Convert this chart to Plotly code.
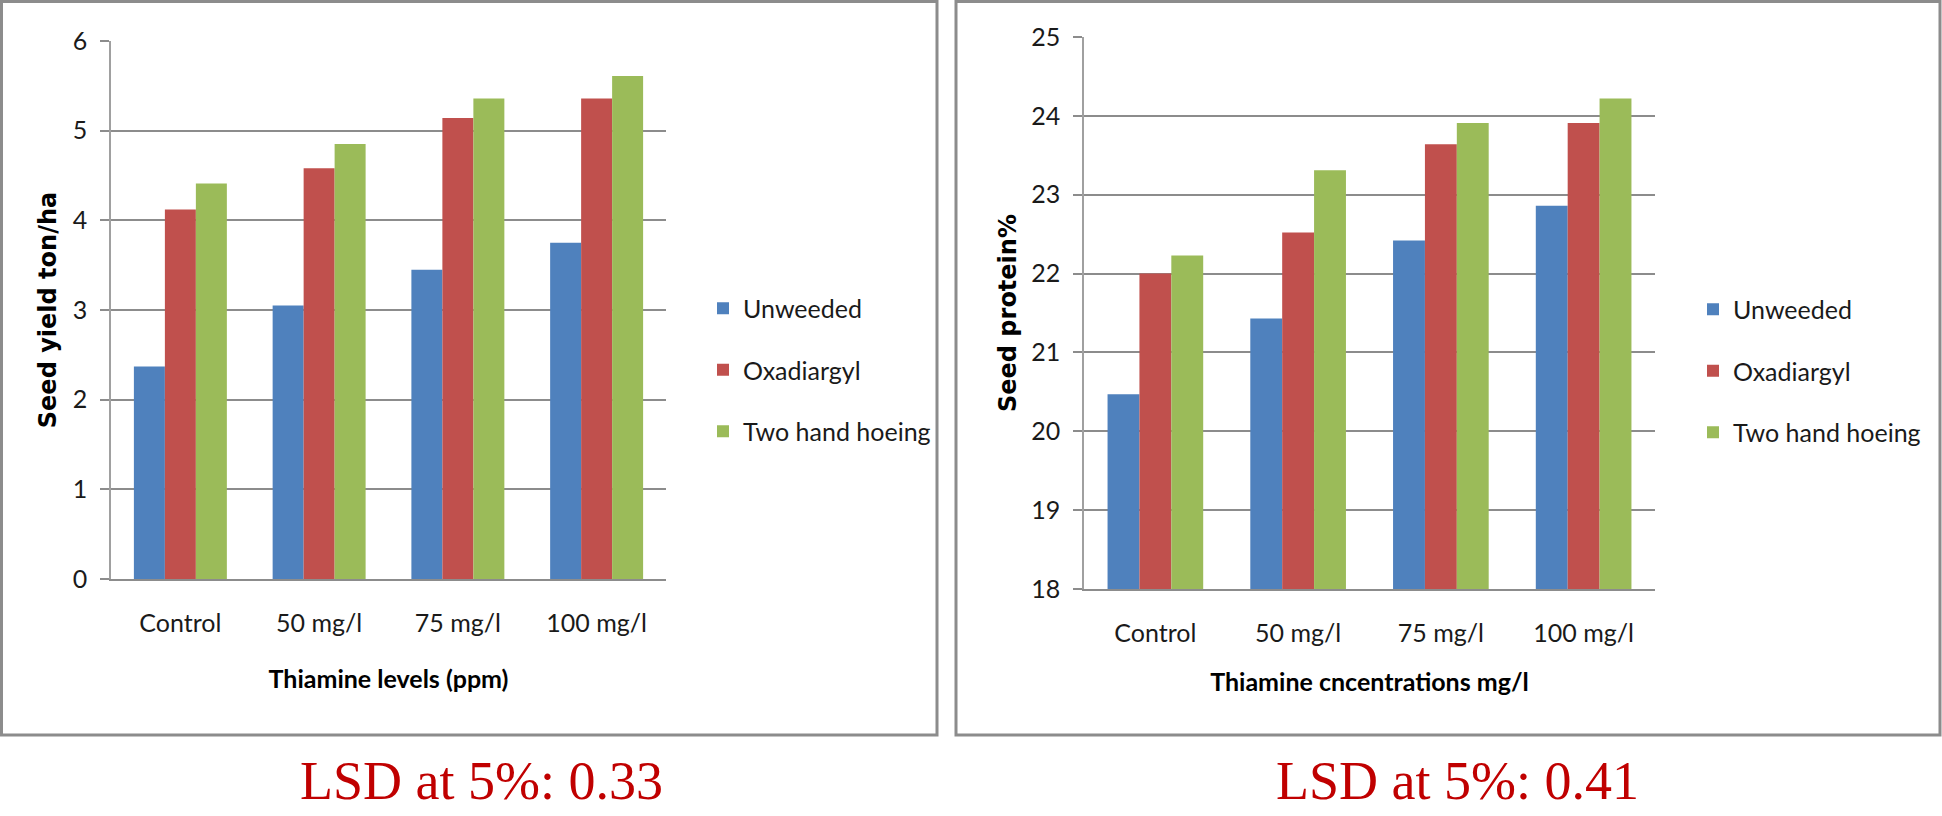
import plotly.graph_objects as go

categories = ["Control", "50 mg/l", "75 mg/l", "100 mg/l"]
series_names = ["Unweeded", "Oxadiargyl", "Two hand hoeing"]
colors = ["#4F81BD", "#C0504D", "#9BBB59"]

yield_unweeded = [2.37, 3.05, 3.45, 3.75]
yield_oxadiargyl = [4.12, 4.58, 5.14, 5.36]
yield_hoeing = [4.41, 4.85, 5.36, 5.61]

protein_unweeded = [20.47, 21.43, 22.42, 22.86]
protein_oxadiargyl = [22.00, 22.52, 23.64, 23.91]
protein_hoeing = [22.23, 23.31, 23.91, 24.22]

left_ticks = [0, 1, 2, 3, 4, 5, 6]
right_ticks = [18, 19, 20, 21, 22, 23, 24, 25]

lsd_texts = ["LSD at 5%: 0.33", "LSD at 5%: 0.41"]

W, H = 1942, 816
def px(x):
    return x / W
def py(y):
    return 1 - y / H

SANS = "Lato, Carlito, Calibri, Liberation Sans, sans-serif"
TICKFONT = dict(family=SANS, size=25, color="#1a1a1a")
GRID = "#8c8c8c"

fig = go.Figure()

left_vals = [yield_unweeded, yield_oxadiargyl, yield_hoeing]
right_vals = [protein_unweeded, protein_oxadiargyl, protein_hoeing]

for i, (name, col) in enumerate(zip(series_names, colors)):
    fig.add_trace(go.Bar(x=categories, y=left_vals[i], name=name, marker=dict(color=col, line=dict(width=0)),
                         xaxis="x", yaxis="y", legend="legend", legendgroup="L%d" % i))
for i, (name, col) in enumerate(zip(series_names, colors)):
    fig.add_trace(go.Bar(x=categories, y=right_vals[i], name=name, marker=dict(color=col, line=dict(width=0)),
                         xaxis="x2", yaxis="y2", legend="legend2", legendgroup="R%d" % i))

xcommon = dict(showgrid=False, showline=True, linecolor=GRID, linewidth=1.5, ticks="",
               tickfont=TICKFONT, ticklabelstandoff=21, zeroline=False, automargin=False)
ycommon = dict(showgrid=True, gridcolor=GRID, gridwidth=1.5, showline=True, linecolor="#a0a0a0", linewidth=1.5,
               ticks="outside", ticklen=9, tickcolor=GRID, tickwidth=1.5, tickfont=TICKFONT,
               ticklabelstandoff=8, zeroline=False, automargin=False)

XT_FONT = dict(family=SANS, size=25, color="#000000", weight="bold")
YT_FONT = dict(family="DejaVu Sans, Verdana, sans-serif", size=24, color="#000000", weight="bold")

fig.update_layout(
    width=W, height=H,
    margin=dict(l=0, r=0, t=0, b=0),
    paper_bgcolor="white", plot_bgcolor="white",
    barmode="group", bargap=0.33, bargroupgap=0,
    showlegend=True,
    xaxis=dict(domain=[px(111), px(666)], anchor="y",
               title=dict(text="Thiamine levels (ppm)", font=XT_FONT, standoff=35), **xcommon),
    yaxis=dict(domain=[py(579), py(41)], anchor="x", range=[0, 6], tickvals=left_ticks,
               title=dict(text="Seed yield ton/ha", font=YT_FONT, standoff=9), **ycommon),
    xaxis2=dict(domain=[px(1084), px(1655)], anchor="y2",
                title=dict(text="Thiamine cncentrations mg/l", font=XT_FONT, standoff=28), **xcommon),
    yaxis2=dict(domain=[py(589), py(37)], anchor="x2", range=[18, 25], tickvals=right_ticks,
                title=dict(text="Seed protein%", font=YT_FONT, standoff=8), **ycommon),
    legend=dict(x=px(703), y=py(370), xanchor="left", yanchor="middle", font=TICKFONT,
                tracegroupgap=26, bgcolor="rgba(0,0,0,0)", itemwidth=30),
    legend2=dict(x=px(1693), y=py(371), xanchor="left", yanchor="middle", font=TICKFONT,
                 tracegroupgap=26, bgcolor="rgba(0,0,0,0)", itemwidth=30),
    shapes=[
        dict(type="rect", xref="paper", yref="paper", x0=px(1.5), x1=px(937), y0=py(735), y1=py(1.5),
             line=dict(color="#8c8c8c", width=3), fillcolor="rgba(0,0,0,0)", layer="below"),
        dict(type="rect", xref="paper", yref="paper", x0=px(956), x1=px(1940), y0=py(735), y1=py(1.5),
             line=dict(color="#8c8c8c", width=3), fillcolor="rgba(0,0,0,0)", layer="below"),
    ],
    annotations=[
        dict(text=lsd_texts[0], xref="paper", yref="paper", x=px(481), y=py(781), xanchor="center", yanchor="middle",
             showarrow=False, font=dict(family="Liberation Serif, Times New Roman, serif", size=54, color="#C00000")),
        dict(text=lsd_texts[1], xref="paper", yref="paper", x=px(1457), y=py(781), xanchor="center", yanchor="middle",
             showarrow=False, font=dict(family="Liberation Serif, Times New Roman, serif", size=54, color="#C00000")),
    ],
)

fig.write_html("out.html", config={"displayModeBar": False},
               post_script="document.body.style.margin='0px';document.body.style.overflow='hidden';")
